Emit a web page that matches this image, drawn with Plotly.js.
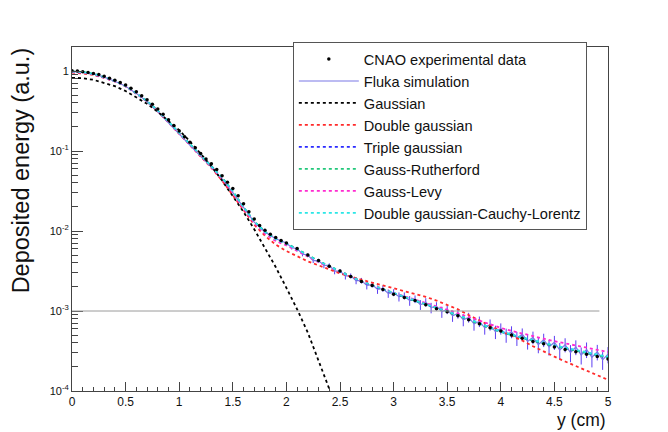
<!DOCTYPE html>
<html>
<head>
<meta charset="utf-8">
<script src="https://cdn.plot.ly/plotly-3.0.1.min.js"></script>
<style>html,body{margin:0;padding:0;background:#fff;}#chart{width:668px;height:432px;}</style>
</head>
<body>
<div id="chart"></div>
<script>
// ---- data ----
const xFit = [0,0.1,0.2,0.3,0.4,0.5,0.6,0.7,0.8,0.9,1.0,1.1,1.2,1.3,1.4,1.5,1.6,1.7,1.8,1.9,2.0,2.1,2.2,2.3,2.4,2.5,2.6,2.7,2.8,2.9,3.0,3.1,3.2,3.3,3.4,3.5,3.6,3.7,3.8,3.9,4.0,4.1,4.2,4.3,4.4,4.5,4.6,4.7,4.8,4.9,5.0];

const xData = [0,0.05,0.1,0.15,0.2,0.25,0.3,0.35,0.4,0.45,0.5,0.55,0.6,0.65,0.7,0.75,0.8,0.85,0.9,0.95,1.0,1.05,1.1,1.15,1.2,1.25,1.3,1.35,1.4,1.45,1.5,1.55,1.6,1.65,1.7,1.75,1.8,1.85,1.9,1.95,2.0,2.1,2.2,2.3,2.4,2.5,2.6,2.7,2.8,2.9,3.0,3.1,3.2,3.3,3.4,3.5,3.6,3.7,3.8,3.9,4.0,4.1,4.2,4.3,4.4,4.5,4.6,4.7,4.8,4.9,5.0];
const cnaoData = [1.01,1.00,0.977,0.955,0.933,0.902,0.861,0.813,0.767,0.716,0.668,0.610,0.550,0.490,0.437,0.385,0.335,0.288,0.245,0.209,0.178,0.151,0.129,0.110,0.0933,0.0794,0.0692,0.0589,0.0490,0.0407,0.0339,0.0275,0.0219,0.0174,0.0141,0.0117,0.0102,0.00912,0.00832,0.00759,0.00708,0.00603,0.00501,0.00427,0.00363,0.00316,0.00269,0.00234,0.00209,0.00186,0.00162,0.00148,0.00135,0.00120,0.00107,0.000977,0.000871,0.000776,0.000692,0.000617,0.000562,0.000501,0.000457,0.000417,0.000389,0.000355,0.000331,0.000309,0.000288,0.000269,0.000251];

const xFluka = [0,0.1,0.2,0.3,0.4,0.5,0.6,0.7,0.8,0.9,1.0,1.1,1.2,1.3,1.4,1.5,1.6,1.7,1.8,1.9,2.0,2.05,2.1,2.15,2.2,2.25,2.3,2.35,2.4,2.45,2.5,2.55,2.6,2.65,2.7,2.75,2.8,2.85,2.9,2.95,3.0,3.05,3.1,3.15,3.2,3.25,3.3,3.35,3.4,3.45,3.5,3.55,3.6,3.65,3.7,3.75,3.8,3.85,3.9,3.95,4.0,4.05,4.1,4.15,4.2,4.25,4.3,4.35,4.4,4.45,4.5,4.55,4.6,4.65,4.7,4.75,4.8,4.85,4.9,4.95,5.0];
const flukaSim = [0.985,0.965,0.920,0.838,0.745,0.645,0.525,0.415,0.312,0.225,0.163,0.118,0.0855,0.0630,0.0447,0.0302,0.0195,0.0129,0.0097,0.0080,0.00708,0.00617,0.00603,0.00513,0.00501,0.00427,0.00427,0.00372,0.00372,0.00316,0.00316,0.00275,0.00275,0.00240,0.00240,0.00209,0.00214,0.00186,0.00191,0.00166,0.00170,0.00151,0.00155,0.00135,0.00141,0.00120,0.00129,0.00110,0.00115,0.000977,0.00105,0.000871,0.000933,0.000776,0.000832,0.000692,0.000741,0.000617,0.000676,0.000550,0.000603,0.000501,0.000550,0.000457,0.000513,0.000417,0.000468,0.000380,0.000437,0.000355,0.000407,0.000324,0.000380,0.000302,0.000355,0.000282,0.000331,0.000263,0.000309,0.000245,0.000288];
const flukaRelErr = [0,0,0,0,0,0,0,0,0,0,0,0,0,0,0,0,0,0,0,0,0.03,0.05,0.04,0.06,0.05,0.07,0.05,0.08,0.06,0.09,0.06,0.1,0.07,0.1,0.08,0.11,0.08,0.12,0.09,0.12,0.1,0.13,0.1,0.14,0.11,0.14,0.12,0.15,0.12,0.16,0.13,0.16,0.14,0.17,0.14,0.18,0.15,0.18,0.16,0.19,0.16,0.2,0.17,0.2,0.18,0.21,0.18,0.22,0.19,0.22,0.2,0.23,0.2,0.24,0.21,0.24,0.22,0.25,0.22,0.25,0.23];

const xGauss = [0,0.1,0.2,0.3,0.4,0.5,0.6,0.7,0.8,0.9,1.0,1.1,1.2,1.3,1.4,1.5,1.6,1.7,1.8,1.9,2.0,2.1,2.2,2.3,2.4,2.45];
const gaussian = [0.822,0.813,0.776,0.716,0.646,0.562,0.473,0.389,0.309,0.240,0.182,0.132,0.0933,0.0646,0.0427,0.0275,0.0174,0.0105,0.00617,0.00355,0.00195,0.00105,0.000537,0.000240,0.000107,0.0000708];

const doubleGauss = [0.955,0.933,0.891,0.822,0.741,0.646,0.525,0.417,0.316,0.229,0.162,0.117,0.0851,0.0617,0.0427,0.0282,0.0182,0.0120,0.00871,0.00676,0.00562,0.00479,0.00417,0.00372,0.00331,0.00295,0.00269,0.00245,0.00226,0.00209,0.00193,0.00178,0.00164,0.00150,0.00135,0.00120,0.00105,0.000891,0.000759,0.000661,0.000562,0.000490,0.000427,0.000363,0.000309,0.000269,0.000234,0.000204,0.000178,0.000155,0.000138];

const tripleGauss = [0.98,0.96,0.915,0.835,0.745,0.648,0.527,0.418,0.318,0.230,0.167,0.121,0.0877,0.0650,0.0460,0.0310,0.0197,0.0131,0.0098,0.0080,0.00697,0.00593,0.00493,0.00418,0.00363,0.00309,0.00268,0.00232,0.00207,0.00184,0.00164,0.00149,0.00134,0.00122,0.00109,0.00099,0.000885,0.000790,0.000690,0.000617,0.000552,0.000503,0.000460,0.000430,0.000393,0.000367,0.000343,0.000320,0.000299,0.000279,0.000262];

const gaussRutherford = [0.99,0.97,0.925,0.845,0.752,0.652,0.530,0.420,0.320,0.232,0.168,0.122,0.0885,0.0655,0.0465,0.0313,0.0199,0.0132,0.0098,0.0080,0.00700,0.00596,0.00496,0.00421,0.00365,0.00311,0.00271,0.00236,0.00210,0.00187,0.00166,0.00150,0.00134,0.00122,0.00109,0.000985,0.000875,0.000780,0.000685,0.000612,0.000548,0.000500,0.000458,0.000428,0.000392,0.000365,0.000342,0.000319,0.000298,0.000280,0.000262];

const gaussLevy = [0.97,0.95,0.91,0.83,0.74,0.645,0.525,0.415,0.315,0.228,0.165,0.119,0.0865,0.0635,0.0450,0.0300,0.0190,0.0126,0.0092,0.0075,0.0066,0.00565,0.00475,0.00407,0.00355,0.00305,0.00267,0.00234,0.00209,0.00187,0.00168,0.00153,0.00138,0.00126,0.00114,0.00104,0.000935,0.000845,0.000750,0.000680,0.000615,0.000565,0.000520,0.000485,0.000450,0.000420,0.000393,0.000368,0.000345,0.000325,0.000307];

const dgCauchyLorentz = [0.985,0.965,0.92,0.84,0.748,0.650,0.528,0.419,0.319,0.231,0.168,0.1215,0.088,0.0652,0.0462,0.0312,0.0198,0.0131,0.0097,0.0079,0.00690,0.00588,0.00490,0.00417,0.00362,0.00308,0.00268,0.00234,0.00209,0.00186,0.00166,0.00151,0.00136,0.00123,0.00110,0.00100,0.000890,0.000795,0.000695,0.000622,0.000556,0.000507,0.000465,0.000434,0.000398,0.000372,0.000348,0.000326,0.000305,0.000286,0.000268];

const refLevel = 1e-3;
const yTickVals = [1e-4,1e-3,1e-2,1e-1,1];
const yTickText = ['10<sup>-4</sup>','10<sup>-3</sup>','10<sup>-2</sup>','10<sup>-1</sup>','1'];
const yMinorVals = [2e-4,3e-4,4e-4,5e-4,6e-4,7e-4,8e-4,9e-4,2e-3,3e-3,4e-3,5e-3,6e-3,7e-3,8e-3,9e-3,2e-2,3e-2,4e-2,5e-2,6e-2,7e-2,8e-2,9e-2,0.2,0.3,0.4,0.5,0.6,0.7,0.8,0.9];
const xTickVals = [0,0.5,1,1.5,2,2.5,3,3.5,4,4.5,5];
const xTickText = ['0','0.5','1','1.5','2','2.5','3','3.5','4','4.5','5'];

// ---- traces ----
const flukaErr = flukaSim.map((v,i)=>v*flukaRelErr[i]);
function fit(name, x, y, color, rank){
  return {type:'scatter', mode:'lines', name:name, x:x, y:y, legendrank:rank, legendgroup:'g'+rank,
          line:{color:color, width:1.8, dash:'dot'}};
}
const traces = [
  {type:'scatter', mode:'lines', name:'Fluka simulation', x:xFluka, y:flukaSim, legendrank:2, legendgroup:'g2',
   line:{color:'#7a78e6', width:1.2},
   error_y:{type:'data', array:flukaErr, visible:true, color:'#5b3df2', thickness:1, width:0}},
  fit('Gaussian', xGauss, gaussian, '#000000', 3),
  fit('Double gaussian', xFit, doubleGauss, '#ff2a2a', 4),
  fit('Triple gaussian', xFit, tripleGauss, '#2a2aff', 5),
  fit('Gauss-Rutherford', xFit, gaussRutherford, '#22c77a', 6),
  fit('Gauss-Levy', xFit, gaussLevy, '#ff2ad0', 7),
  fit('Double gaussian-Cauchy-Lorentz', xFit, dgCauchyLorentz, '#2ae6e6', 8),
  {type:'scatter', mode:'markers', name:'CNAO experimental data', x:xData, y:cnaoData, legendrank:1, legendgroup:'g1',
   marker:{color:'#000', size:3.5, symbol:'circle'}}
];

const font = 'Liberation Sans, Arial, Helvetica, sans-serif';
const layout = {
  width:668, height:432,
  margin:{l:72, r:60, t:47, b:41},
  paper_bgcolor:'#ffffff', plot_bgcolor:'#ffffff',
  font:{family:font, color:'#111', size:12},
  showlegend:true,
  legend:{x:0.412, y:1.0145, xanchor:'left', yanchor:'top', bgcolor:'#ffffff', bordercolor:'#555', borderwidth:1,
          font:{family:font, size:14.6, color:'#111'}, traceorder:'grouped', tracegroupgap:0, itemwidth:60},
  xaxis:{range:[0,5], showgrid:false, zeroline:false, showline:true, linecolor:'#444', linewidth:1, mirror:true,
         ticks:'inside', ticklen:9, tickcolor:'#444', tickmode:'array', tickvals:xTickVals, ticktext:xTickText,
         tickfont:{size:12, family:font}, minor:{ticks:'inside', ticklen:4, dtick:0.1, tick0:0, tickcolor:'#444'}},
  yaxis:{type:'log', range:[-4,0.3], showgrid:false, zeroline:false, showline:true, linecolor:'#444', linewidth:1, mirror:true,
         ticks:'inside', ticklen:11, tickcolor:'#444', tickmode:'array', tickvals:yTickVals, ticktext:yTickText,
         tickfont:{size:11, family:font},
         minor:{ticks:'inside', ticklen:6, tickmode:'array', tickvals:yMinorVals, tickcolor:'#444'}},
  shapes:[{type:'line', xref:'x', yref:'y', x0:0, x1:4.92, y0:refLevel, y1:refLevel, line:{color:'#9a9a9a', width:1}}],
  annotations:[
    {text:'Deposited energy (a.u.)', xref:'paper', yref:'paper', x:-0.095, y:1.005, xanchor:'center', yanchor:'top',
     textangle:-90, showarrow:false, font:{family:font, size:23.5, color:'#111'}},
    {text:'y (cm)', xref:'paper', yref:'paper', x:1.0, y:-0.083, xanchor:'right', yanchor:'middle',
     showarrow:false, font:{family:font, size:17.5, color:'#111'}}
  ]
};
Plotly.newPlot('chart', traces, layout, {displayModeBar:false, staticPlot:true});
</script>
</body>
</html>
